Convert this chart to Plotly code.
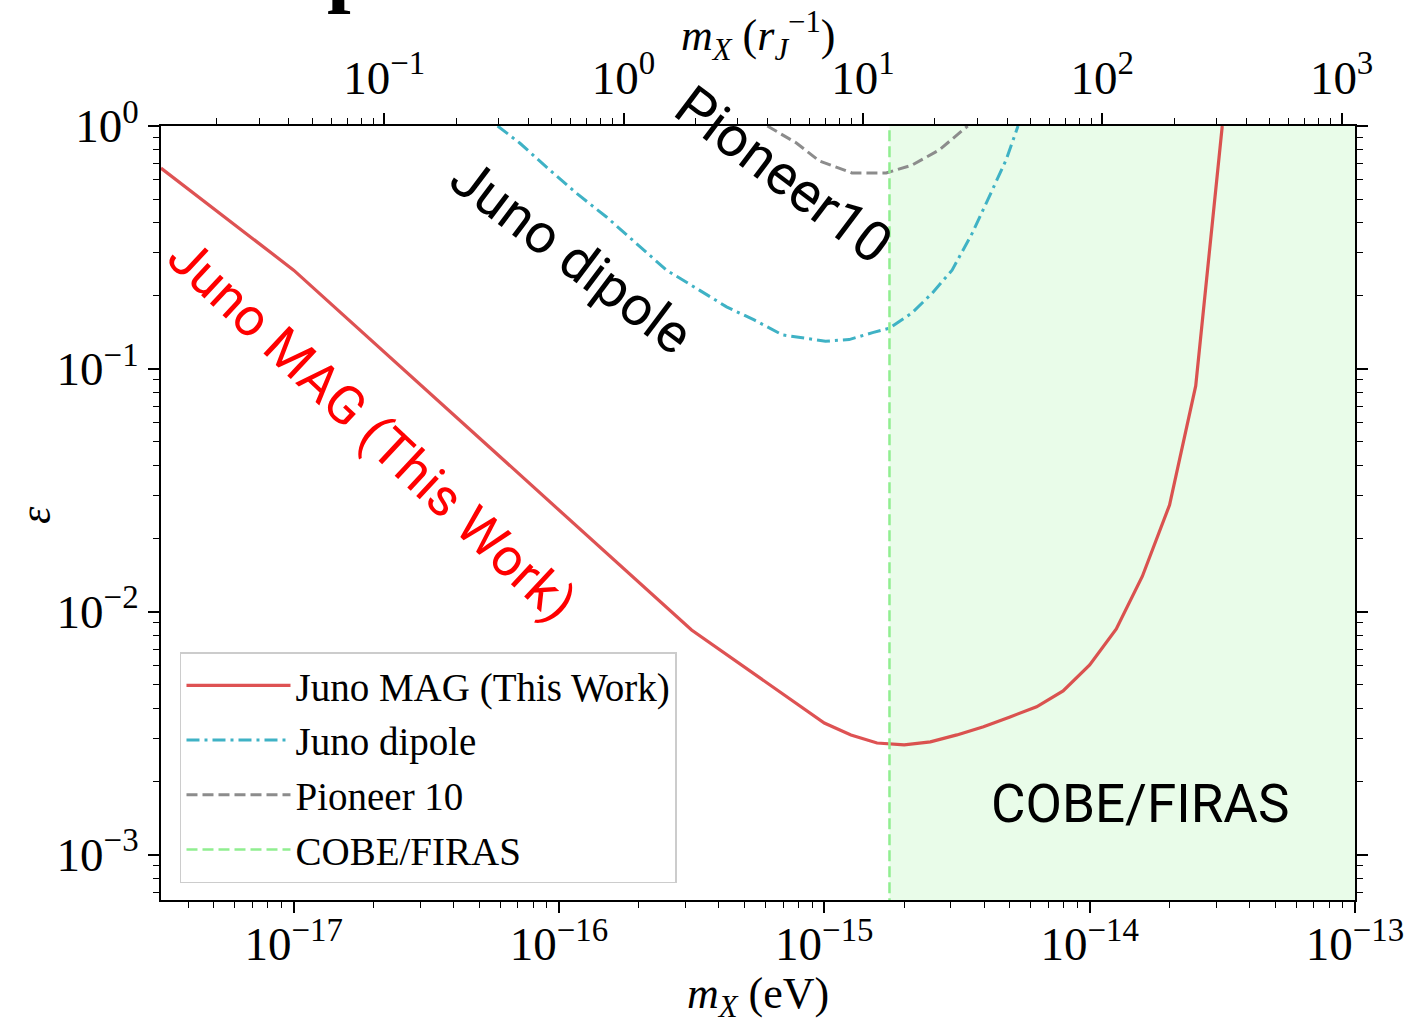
import plotly.graph_objects as go

# ---------------- data ----------------
mag_x = [3.16e-18, 1.0e-17, 3.16e-16, 1.0e-15, 1.26e-15, 1.58e-15, 2.0e-15, 2.51e-15,
         3.16e-15, 3.98e-15, 5.01e-15, 6.31e-15, 7.94e-15, 1.0e-14, 1.26e-14, 1.58e-14,
         2.0e-14, 2.51e-14, 3.16e-14]
mag_y = [0.671, 0.255, 8.41e-3, 3.48e-3, 3.11e-3, 2.88e-3, 2.83e-3, 2.91e-3,
         3.11e-3, 3.36e-3, 3.69e-3, 4.06e-3, 4.72e-3, 6.04e-3, 8.49e-3, 1.40e-2,
         2.75e-2, 8.51e-2, 1.0]

dip_x = [5.87e-17, 7.11e-17, 9.23e-17, 1.16e-16, 1.51e-16, 1.89e-16, 2.54e-16, 3.38e-16,
         4.28e-16, 5.44e-16, 6.95e-16, 1.01e-15, 1.24e-15, 1.52e-15, 1.76e-15, 2.14e-15,
         2.55e-15, 3.03e-15, 3.61e-15, 4.18e-15, 4.84e-15, 5.37e-15]
dip_y = [1.0, 0.851, 0.659, 0.530, 0.422, 0.340, 0.255, 0.211,
         0.180, 0.159, 0.138, 0.130, 0.132, 0.141, 0.147, 0.170,
         0.205, 0.255, 0.362, 0.511, 0.724, 1.0]

pio_x = [6.10e-16, 7.85e-16, 9.57e-16, 1.27e-15, 1.71e-15, 2.14e-15, 2.71e-15, 3.47e-15]
pio_y = [1.0, 0.851, 0.718, 0.641, 0.641, 0.690, 0.797, 1.0]

cobe_x = 1.76e-15
x_min, x_max = 3.16e-18, 1.0e-13
y_min, y_max = 6.5e-4, 1.0

x_ticks = [1e-17, 1e-16, 1e-15, 1e-14, 1e-13]
x_ticktext = ["10<sup>\u221217</sup>", "10<sup>\u221216</sup>", "10<sup>\u221215</sup>",
              "10<sup>\u221214</sup>", "10<sup>\u221213</sup>"]
y_ticks = [1e-3, 1e-2, 1e-1, 1.0]
y_ticktext = ["10<sup>\u22123</sup>", "10<sup>\u22122</sup>", "10<sup>\u22121</sup>", "10<sup>0</sup>"]
top_ticks = [0.1, 1, 10, 100, 1000]
top_ticktext = ["10<sup>\u22121</sup>", "10<sup>0</sup>", "10<sup>1</sup>", "10<sup>2</sup>", "10<sup>3</sup>"]

# --------------- layout geometry ---------------
W, H = 1413, 1024
L, R, T, B = 161, 1355.5, 126, 900


def px(xp):
    return (xp - L) / (R - L)


def py(yp):
    return (B - yp) / (B - T)


def minors(e0, e1):
    return [k * 10.0 ** e for e in range(e0, e1) for k in range(2, 10)]


SERIF = "Liberation Serif, Times New Roman, serif"
NARROW = "Roboto, Liberation Sans, sans-serif"

fig = go.Figure()

# COBE/FIRAS shaded region
fig.add_trace(go.Scatter(
    x=[cobe_x, x_max, x_max, cobe_x, cobe_x],
    y=[y_min * 0.5, y_min * 0.5, y_max * 1.5, y_max * 1.5, y_min * 0.5],
    fill="toself", fillcolor="rgba(144,238,144,0.2)", mode="none",
    showlegend=False, hoverinfo="skip"))

fig.add_trace(go.Scatter(
    x=mag_x, y=mag_y, mode="lines", name="Juno MAG (This Work)", legendgroup="a",
    line=dict(color="rgba(214,39,40,0.8)", width=3.2)))
fig.add_trace(go.Scatter(
    x=dip_x, y=dip_y, mode="lines", name="Juno dipole", legendgroup="b",
    line=dict(color="#3fb2c5", width=3, dash="13px,5px,3px,5px")))
fig.add_trace(go.Scatter(
    x=pio_x, y=pio_y, mode="lines", name="Pioneer 10", legendgroup="c",
    line=dict(color="#8c8c8c", width=3, dash="11px,5px")))
fig.add_trace(go.Scatter(
    x=[cobe_x, cobe_x], y=[y_min * 0.5, y_max * 1.5], mode="lines", name="COBE/FIRAS",
    legendgroup="d", line=dict(color="#90ee90", width=2.5, dash="11px,5px")))

# invisible trace for the top axis
fig.add_trace(go.Scatter(x=[1, 10], y=[0.01, 0.01], xaxis="x2", mode="none",
                         showlegend=False, hoverinfo="skip"))

tickfont = dict(family=SERIF, size=47, color="black")

fig.update_layout(
    width=W, height=H,
    margin=dict(l=L, r=W - R, t=T, b=H - B),
    paper_bgcolor="white", plot_bgcolor="white",
    showlegend=True,
    legend=dict(
        x=px(180), y=py(883), xanchor="left", yanchor="bottom",
        font=dict(family=SERIF, size=39, color="black"),
        bgcolor="white", bordercolor="#cccccc", borderwidth=1.5,
        tracegroupgap=1, itemwidth=104,
    ),
    xaxis=dict(
        type="log", range=[-17.5, -13], showgrid=False, zeroline=False, automargin=False,
        showline=True, linecolor="black", linewidth=2, mirror=True,
        ticks="outside", ticklen=11, tickwidth=1.5, tickcolor="black",
        tickvals=x_ticks, ticktext=x_ticktext, tickfont=tickfont, ticklabelstandoff=-9,
        minor=dict(ticks="outside", ticklen=6, tickwidth=1.2, tickcolor="black",
                   tickvals=minors(-18, -13), showgrid=False),
    ),
    xaxis2=dict(
        type="log", range=[-1.9327, 3.056], overlaying="x", side="top", automargin=False,
        showgrid=False, zeroline=False, showline=True, linecolor="black", linewidth=2,
        ticks="outside", ticklen=11, tickwidth=1.5, tickcolor="black",
        tickvals=top_ticks, ticktext=top_ticktext, tickfont=tickfont,
        minor=dict(ticks="outside", ticklen=6, tickwidth=1.2, tickcolor="black",
                   tickvals=minors(-2, 4), showgrid=False),
    ),
    yaxis=dict(
        type="log", range=[-3.187, 0], showgrid=False, zeroline=False, automargin=False,
        showline=True, linecolor="black", linewidth=2, mirror="ticks",
        ticks="outside", ticklen=11, tickwidth=1.5, tickcolor="black",
        tickvals=y_ticks, ticktext=y_ticktext, tickfont=tickfont,
        minor=dict(ticks="outside", ticklen=6, tickwidth=1.2, tickcolor="black",
                   tickvals=minors(-4, 0), showgrid=False),
    ),
)

annotations = [
    dict(text="Juno MAG (This Work)", x=px(372), y=py(430), textangle=43,
         font=dict(family=NARROW, size=53, color="red")),
    dict(text="Juno dipole", x=px(572), y=py(256), textangle=37,
         font=dict(family=NARROW, size=55, color="black")),
    dict(text="Pioneer10", x=px(784), y=py(175), textangle=37,
         font=dict(family=NARROW, size=56, color="black")),
    dict(text="COBE/FIRAS", x=px(1140), y=py(804), textangle=0,
         font=dict(family=NARROW, size=53, color="black")),
    dict(text="<i>m</i><sub><i>X</i></sub> (eV)", x=px(758), y=py(996),
         font=dict(family=SERIF, size=44, color="black")),
    dict(text="<i>\u03b5</i>", x=px(35), y=py(515), textangle=-90,
         font=dict(family=SERIF, size=44, color="black")),
    dict(text="<i>m</i><sub><i>X</i></sub> (<i>r</i><sub><i>J</i></sub><sup>\u22121</sup>)",
         x=px(758), y=py(36),
         font=dict(family=SERIF, size=44, color="black")),
    dict(text="<b>p</b>", x=px(351), y=py(-33),
         font=dict(family=SERIF, size=85, color="black")),
]
for a in annotations:
    a.update(xref="paper", yref="paper", xanchor="center", yanchor="middle",
             showarrow=False)
fig.update_layout(annotations=annotations)

fig.write_html("out.html")
